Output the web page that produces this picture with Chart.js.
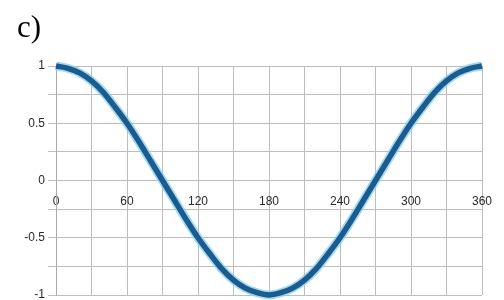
<!DOCTYPE html>
<html>
<head>
<meta charset="utf-8">
<script src="https://cdn.jsdelivr.net/npm/chart.js@4/dist/chart.umd.min.js"></script>
<style>
  html, body { margin: 0; padding: 0; background: #fff; }
  #wrap { position: relative; width: 504px; height: 300px; }
  #title { position: absolute; left: 17px; top: 11px; font-family: "Liberation Serif", "DejaVu Serif", serif; font-size: 31px; color: #000; line-height: 1; }
  canvas { position: absolute; left: 0; top: 0; }
</style>
</head>
<body>
<div id="wrap">
  <canvas id="c" width="504" height="300"></canvas>
  <div id="title">c)</div>
</div>
<script>
// Angles in degrees (x) and the read values of the curve (y)
const angles = [0, 10, 20, 30, 40, 50, 60, 70, 80, 90, 100, 110, 120, 130, 140, 150, 160, 170, 180,
                190, 200, 210, 220, 230, 240, 250, 260, 270, 280, 290, 300, 310, 320, 330, 340, 350, 360];
const values = [1, 0.98, 0.94, 0.87, 0.77, 0.64, 0.5, 0.34, 0.17, 0, -0.17, -0.34, -0.5, -0.64, -0.77, -0.87, -0.94, -0.98, -1,
                -0.98, -0.94, -0.87, -0.77, -0.64, -0.5, -0.34, -0.17, 0, 0.17, 0.34, 0.5, 0.64, 0.77, 0.87, 0.94, 0.98, 1];
const xTickLabels = [0, 60, 120, 180, 240, 300, 360];
const yTickLabels = [1, 0.5, 0, -0.5, -1];

const pts = angles.map((a, i) => ({ x: a, y: values[i] }));

new Chart(document.getElementById('c'), {
  type: 'line',
  data: {
    datasets: [
      { data: pts, borderColor: '#1b5b8d', borderWidth: 5.5, pointRadius: 0, tension: 0.3, clip: 10, order: 0 },
      { data: pts, borderColor: 'rgba(130,205,240,0.75)', borderWidth: 9, pointRadius: 0, tension: 0.3, clip: 10, order: 1 }
    ]
  },
  options: {
    responsive: false,
    animation: false,
    layout: { padding: { left: 0, top: 66, right: 22, bottom: 5 } },
    plugins: { legend: { display: false }, tooltip: { enabled: false } },
    scales: {
      x: {
        type: 'linear',
        position: { y: 0 },
        min: 0, max: 360,
        ticks: {
          stepSize: 30,
          autoSkip: false,
          maxRotation: 0,
          color: '#2a2a2a',
          font: { family: 'Liberation Sans', size: 12 },
          padding: 5,
          callback: (v) => xTickLabels.includes(v) ? String(v) : ''
        },
        grid: { color: '#bdbdbd', lineWidth: 1, tickLength: 9, drawTicks: true },
        border: { display: false }
      },
      y: {
        min: -1, max: 1,
        afterFit: (s) => { s.width = 56; s.paddingTop = 0; s.paddingBottom = 0; },
        ticks: {
          stepSize: 0.25,
          autoSkip: false,
          color: '#2a2a2a',
          font: { family: 'Liberation Sans', size: 12 },
          padding: 3,
          callback: (v) => yTickLabels.includes(v) ? String(v) : ''
        },
        grid: { color: '#bdbdbd', lineWidth: 1, tickLength: 8 },
        border: { color: '#aaaaaa' }
      }
    }
  }
});
</script>
</body>
</html>
